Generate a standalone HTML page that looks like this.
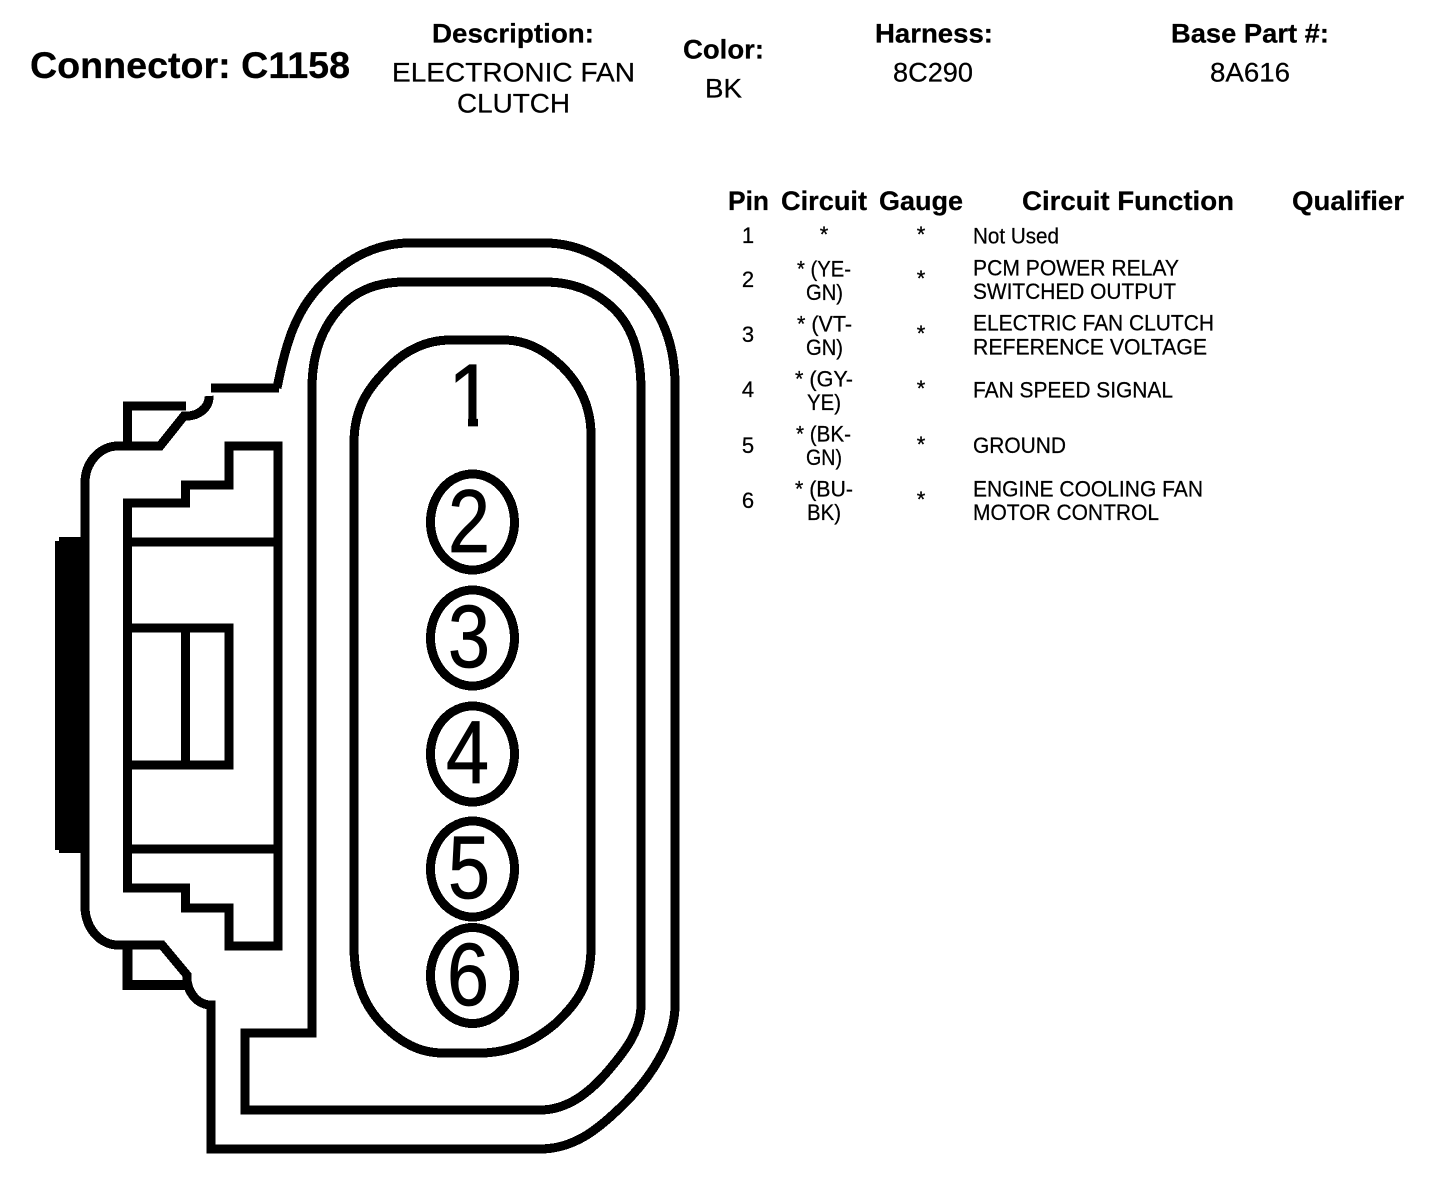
<!DOCTYPE html>
<html>
<head>
<meta charset="utf-8">
<style>
html,body{margin:0;padding:0;background:#fff;}
svg{display:block;}
text{font-family:"Liberation Sans",Arial,sans-serif;fill:#000;stroke:#000;stroke-width:.25;}
.b{font-weight:bold;font-size:27px;}
.h{font-size:27px;}
.r{font-size:22px;}
.d{font-size:89px;stroke-width:.8;}
.s{fill:none;stroke:#000;stroke-width:9;shape-rendering:crispEdges;stroke-linejoin:miter;}
</style>
</head>
<body>
<svg width="1440" height="1182" viewBox="0 0 1440 1182" xmlns="http://www.w3.org/2000/svg">
<rect width="1440" height="1182" fill="#fff"/>

<!-- Header -->
<text class="b" x="30" y="78" style="font-size:37px" textLength="320" lengthAdjust="spacingAndGlyphs">Connector: C1158</text>
<text class="b" x="432" y="42.5" textLength="162" lengthAdjust="spacingAndGlyphs">Description:</text>
<text class="h" x="392" y="81.5" textLength="243" lengthAdjust="spacingAndGlyphs">ELECTRONIC FAN</text>
<text class="h" x="457" y="112.5" textLength="113" lengthAdjust="spacingAndGlyphs">CLUTCH</text>
<text class="b" x="683" y="58.5" textLength="81" lengthAdjust="spacingAndGlyphs">Color:</text>
<text class="h" x="705" y="97.5" textLength="37" lengthAdjust="spacingAndGlyphs">BK</text>
<text class="b" x="875" y="42.5" textLength="118" lengthAdjust="spacingAndGlyphs">Harness:</text>
<text class="h" x="893" y="81.5" textLength="80" lengthAdjust="spacingAndGlyphs">8C290</text>
<text class="b" x="1171" y="42.5" textLength="158" lengthAdjust="spacingAndGlyphs">Base Part #:</text>
<text class="h" x="1210" y="81.5" textLength="80" lengthAdjust="spacingAndGlyphs">8A616</text>

<!-- Table header -->
<text class="b" x="728" y="210" textLength="41" lengthAdjust="spacingAndGlyphs">Pin</text>
<text class="b" x="781" y="210" textLength="86" lengthAdjust="spacingAndGlyphs">Circuit</text>
<text class="b" x="879" y="210" textLength="84" lengthAdjust="spacingAndGlyphs">Gauge</text>
<text class="b" x="1022" y="210" textLength="212" lengthAdjust="spacingAndGlyphs">Circuit Function</text>
<text class="b" x="1292" y="210" textLength="112" lengthAdjust="spacingAndGlyphs">Qualifier</text>

<!-- Pins -->
<text class="r" x="748" y="243" text-anchor="middle">1</text>
<text class="r" x="748" y="287" text-anchor="middle">2</text>
<text class="r" x="748" y="342" text-anchor="middle">3</text>
<text class="r" x="748" y="397" text-anchor="middle">4</text>
<text class="r" x="748" y="453" text-anchor="middle">5</text>
<text class="r" x="748" y="508" text-anchor="middle">6</text>

<!-- Circuit -->
<text class="r" x="824" y="242" text-anchor="middle">*</text>
<text class="r" x="797" y="276.5" textLength="54" lengthAdjust="spacingAndGlyphs">* (YE-</text>
<text class="r" x="806" y="300" textLength="37" lengthAdjust="spacingAndGlyphs">GN)</text>
<text class="r" x="797" y="331.5" textLength="55" lengthAdjust="spacingAndGlyphs">* (VT-</text>
<text class="r" x="806" y="355" textLength="37" lengthAdjust="spacingAndGlyphs">GN)</text>
<text class="r" x="795" y="386.5" textLength="58" lengthAdjust="spacingAndGlyphs">* (GY-</text>
<text class="r" x="807" y="410" textLength="34" lengthAdjust="spacingAndGlyphs">YE)</text>
<text class="r" x="796" y="441.5" textLength="55" lengthAdjust="spacingAndGlyphs">* (BK-</text>
<text class="r" x="806" y="465" textLength="36" lengthAdjust="spacingAndGlyphs">GN)</text>
<text class="r" x="795" y="496.5" textLength="58" lengthAdjust="spacingAndGlyphs">* (BU-</text>
<text class="r" x="807" y="520" textLength="34" lengthAdjust="spacingAndGlyphs">BK)</text>

<!-- Gauge -->
<text class="r" x="921" y="242" text-anchor="middle">*</text>
<text class="r" x="921" y="286" text-anchor="middle">*</text>
<text class="r" x="921" y="341" text-anchor="middle">*</text>
<text class="r" x="921" y="396" text-anchor="middle">*</text>
<text class="r" x="921" y="452" text-anchor="middle">*</text>
<text class="r" x="921" y="507" text-anchor="middle">*</text>

<!-- Function -->
<text class="r" x="973" y="243.5" textLength="86" lengthAdjust="spacingAndGlyphs">Not Used</text>
<text class="r" x="973" y="275.5" textLength="206" lengthAdjust="spacingAndGlyphs">PCM POWER RELAY</text>
<text class="r" x="973" y="299" textLength="203" lengthAdjust="spacingAndGlyphs">SWITCHED OUTPUT</text>
<text class="r" x="973" y="330.5" textLength="241" lengthAdjust="spacingAndGlyphs">ELECTRIC FAN CLUTCH</text>
<text class="r" x="973" y="354.5" textLength="234" lengthAdjust="spacingAndGlyphs">REFERENCE VOLTAGE</text>
<text class="r" x="973" y="397.5" textLength="200" lengthAdjust="spacingAndGlyphs">FAN SPEED SIGNAL</text>
<text class="r" x="973" y="453" textLength="93" lengthAdjust="spacingAndGlyphs">GROUND</text>
<text class="r" x="973" y="496.5" textLength="230" lengthAdjust="spacingAndGlyphs">ENGINE COOLING FAN</text>
<text class="r" x="973" y="520" textLength="186" lengthAdjust="spacingAndGlyphs">MOTOR CONTROL</text>

<!-- Connector body -->
<polygon points="59,537 89,537 89,853 59,853 59,850 55,850 55,541 59,541" fill="#000" shape-rendering="crispEdges"/>

<!-- outer outline -->
<path class="s" d="M211,388 H279 M277,388 C285,349 293,314 321,285 C345,260 375,243 410,243 H545 C582,243 612,262 638,288 C664,314 675,348 675,385 V1005 C675,1040 652,1076 625,1103 C600,1128 575,1149 540,1149 H211 V1005 A24,28 0 0 1 187,975 L162,945 H118 A33,39 0 0 1 85,908 V483 A33,37 0 0 1 118,446 H160 L184,416 A23,19 0 0 0 209,396"/>
<!-- latch rects -->
<path class="s" d="M186,406 H127.5 V446"/>
<path class="s" d="M127.5,947 V985 H187" style="stroke-width:10"/>

<!-- middle outline -->
<path class="s" d="M245,1033 H312 V388 C312,358 320,330 340,308 C357,289 380,282 405,282 H545 C571,282 594,290 613,308 C635,329 641,359 641,390 V1005 C641,1031 625,1051 608,1071 C590,1092 568,1110 540,1110 H245 Z"/>

<!-- inner pill -->
<path class="s" d="M354,443 C354,405 371,385 390,366 C406,350 427,340 450,340 H503 C524,340 541,348 557,362 C579,381 591,406 591,435 V947 C591,985 577,1003 556,1023 C534,1042 509,1053 480,1053 H443 C419,1053 400,1042 383,1025 C362,1004 354,977 354,947 Z"/>

<!-- left inner structure -->
<path class="s" d="M278,446 H229 V485 H185.5 V503 H127.5 V888 H185.5 V908 H229 V946 H278 Z"/>
<path class="s" d="M127.5,542 H278 M127.5,849 H278"/>
<path class="s" d="M127.5,628 H229 V765 H127.5 M185.5,628 V765"/>

<!-- pin circles -->
<g fill="none" stroke="#000" stroke-width="9" shape-rendering="crispEdges">
<ellipse cx="472.5" cy="522" rx="42" ry="48"/>
<ellipse cx="472.5" cy="638" rx="42" ry="48"/>
<ellipse cx="472.5" cy="754" rx="42" ry="48"/>
<ellipse cx="472.5" cy="869" rx="42" ry="48"/>
<ellipse cx="472.5" cy="975.5" rx="42" ry="48"/>
</g>

<!-- pin digits -->
<text class="d" x="448" y="426" textLength="46" lengthAdjust="spacingAndGlyphs">1</text>
<rect x="445" y="417" width="23" height="12" fill="#fff"/>
<rect x="478" y="417" width="18" height="12" fill="#fff"/>
<text class="d" x="448" y="552" textLength="42" lengthAdjust="spacingAndGlyphs">2</text>
<text class="d" x="448" y="667" textLength="42" lengthAdjust="spacingAndGlyphs">3</text>
<text class="d" x="446" y="783" textLength="43" lengthAdjust="spacingAndGlyphs">4</text>
<text class="d" x="448" y="898" textLength="42" lengthAdjust="spacingAndGlyphs">5</text>
<text class="d" x="447" y="1005" textLength="42" lengthAdjust="spacingAndGlyphs">6</text>
</svg>
</body>
</html>
